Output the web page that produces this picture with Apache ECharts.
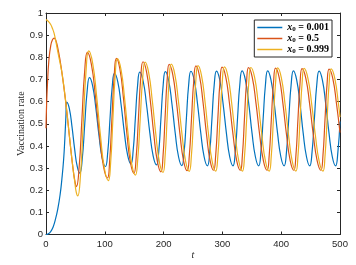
<!DOCTYPE html>
<html>
<head>
<meta charset="utf-8">
<script src="https://cdn.jsdelivr.net/npm/echarts@6/dist/echarts.min.js"></script>
<style>html,body{margin:0;padding:0;background:#fff}#c{width:356px;height:265px}</style>
</head>
<body>
<div id="c"></div>
<script>
const xTicks = [0, 100, 200, 300, 400, 500];
const yTicks = [0, 0.1, 0.2, 0.3, 0.4, 0.5, 0.6, 0.7, 0.8, 0.9, 1];
const seriesNames = ['0.001', '0.5', '0.999'];

// x0 = 0.001
const dataA = [
[0,0],[4,0.003],[8,0.013],[12,0.033],[16,0.068],[20,0.115],[24,0.18],[27,0.25],[30,0.34],[32,0.43],[33.8,0.53],[35.3,0.598],
[39.7,0.568],[44.2,0.487],[48.6,0.388],[53.1,0.307],[57.5,0.277],
[61.6,0.34],[65.75,0.493],[69.9,0.645],[74,0.708],[79.4,0.67],[84.8,0.57],[90.2,0.445],[95.6,0.345],[101,0.307],
[104.9,0.368],[108.75,0.518],[112.6,0.667],[116.5,0.728],[122.1,0.689],[127.7,0.587],[133.3,0.459],[138.9,0.357],[144.5,0.318],
[148.25,0.379],[152,0.526],[155.75,0.672],[159.5,0.733],[165.2,0.693],[170.9,0.588],[176.6,0.459],[182.3,0.354],[188,0.314],
[191.75,0.375],[195.5,0.525],[199.25,0.674],[203,0.735],[208.6,0.695],[214.2,0.589],[219.8,0.457],[225.4,0.351],[231,0.311],
[234.9,0.373],[238.75,0.524],[242.6,0.675],[246.5,0.737],[252.1,0.696],[257.7,0.59],[263.3,0.457],[268.9,0.351],[274.5,0.31],
[278.4,0.372],[282.25,0.524],[286.1,0.676],[290,0.738],[295.6,0.697],[301.2,0.59],[306.8,0.458],[312.4,0.351],[318,0.31],
[321.9,0.373],[325.75,0.525],[329.6,0.676],[333.5,0.739],[339.1,0.698],[344.8,0.591],[350.4,0.458],[356.1,0.351],[361.7,0.31],
[365.5,0.373],[369.35,0.525],[373.2,0.676],[377,0.739],[382.6,0.698],[388.2,0.591],[393.8,0.458],[399.4,0.351],[405,0.31],
[409,0.373],[412.9,0.525],[416.9,0.676],[420.8,0.739],[426.3,0.698],[431.9,0.591],[437.4,0.458],[443,0.351],[448.5,0.31],
[452.5,0.373],[456.5,0.524],[460.5,0.676],[464.5,0.738],[470.1,0.697],[475.7,0.59],[481.3,0.458],[486.9,0.351],[492.5,0.31],
[496.4,0.372],[500,0.51]
];

// x0 = 0.5
const dataB = [
[0,0.48],[1,0.585],[2.3,0.67],[5,0.79],[8,0.852],[11,0.879],[14,0.887],[17,0.874],[20,0.843],[24,0.785],[28,0.713],[33,0.61],[38,0.49],[42,0.388],[46,0.297],[49,0.243],[51.7,0.216],
[56.4,0.305],[61.05,0.519],[65.7,0.734],[70.4,0.822],[77.2,0.768],[84,0.626],[90.9,0.451],[97.7,0.309],[104.5,0.255],
[108.3,0.334],[112.15,0.525],[116,0.716],[119.8,0.795],[125.7,0.746],[131.7,0.616],[137.6,0.455],[143.6,0.325],[149.5,0.276],
[153.4,0.35],[157.25,0.528],[161.1,0.706],[165,0.78],[171.1,0.733],[177.2,0.609],[183.3,0.454],[189.4,0.33],[195.5,0.283],
[199,0.354],[202.5,0.526],[206,0.697],[209.5,0.768],[215.6,0.722],[221.7,0.602],[227.8,0.454],[233.9,0.334],[240,0.288],
[243.75,0.357],[247.5,0.525],[251.25,0.692],[255,0.761],[261,0.716],[267,0.598],[273,0.452],[279,0.335],[285,0.29],
[288.6,0.358],[292.25,0.523],[295.9,0.688],[299.5,0.756],[305.7,0.712],[311.9,0.595],[318.1,0.451],[324.3,0.334],[330.5,0.29],
[334,0.358],[337.5,0.522],[341,0.685],[344.5,0.753],[350.8,0.709],[357.1,0.593],[363.4,0.45],[369.7,0.334],[376,0.29],
[379.6,0.357],[383.25,0.521],[386.9,0.684],[390.5,0.751],[396.7,0.707],[402.9,0.592],[409.1,0.449],[415.3,0.334],[421.5,0.29],
[425,0.357],[428.5,0.52],[432,0.682],[435.5,0.749],[441.9,0.705],[448.3,0.591],[454.7,0.448],[461.1,0.334],[467.5,0.29],
[471,0.357],[474.5,0.519],[478,0.68],[481.5,0.747],[487.8,0.704],[494.1,0.589],[500,0.46]
];

// x0 = 0.999
const dataC = [
[0,0.97],[4,0.962],[8,0.948],[11,0.93],[13.6,0.91],[16.5,0.875],[19.3,0.836],[22,0.8],[25,0.761],[28,0.715],[33,0.612],[38,0.49],[42,0.39],[46,0.297],[49,0.235],[51.5,0.19],[54,0.174],
[58.7,0.27],[63.35,0.502],[68,0.733],[72.7,0.829],[79.4,0.773],[86,0.627],[92.7,0.445],[99.3,0.299],[106,0.243],
[109.9,0.323],[113.75,0.519],[117.6,0.714],[121.5,0.794],[127.6,0.744],[133.7,0.613],[139.8,0.449],[145.9,0.318],[152,0.268],
[156.1,0.342],[160.25,0.523],[164.4,0.704],[168.5,0.778],[174.6,0.731],[180.7,0.606],[186.8,0.452],[192.9,0.327],[199,0.28],
[202.5,0.351],[206,0.525],[209.5,0.698],[213,0.769],[219.1,0.723],[225.2,0.602],[231.3,0.452],[237.4,0.331],[243.5,0.285],
[247.25,0.355],[251,0.524],[254.75,0.692],[258.5,0.762],[264.5,0.717],[270.5,0.598],[276.5,0.45],[282.5,0.331],[288.5,0.286],
[292.25,0.355],[296,0.522],[299.75,0.688],[303.5,0.757],[309.6,0.712],[315.7,0.595],[321.8,0.449],[327.9,0.331],[334,0.286],
[337.6,0.354],[341.25,0.52],[344.9,0.686],[348.5,0.754],[354.7,0.71],[360.9,0.593],[367.1,0.448],[373.3,0.33],[379.5,0.286],
[383.1,0.354],[386.75,0.519],[390.4,0.684],[394,0.752],[400.2,0.708],[406.4,0.591],[412.6,0.447],[418.8,0.33],[425,0.286],
[428.5,0.354],[432,0.518],[435.5,0.682],[439,0.75],[445.4,0.706],[451.8,0.59],[458.2,0.446],[464.6,0.33],[471,0.286],
[474.5,0.353],[478,0.517],[481.5,0.681],[485,0.748],[491.2,0.704],[497.4,0.589],[500,0.53]
];

const colors = ['#0072BD', '#D95319', '#EDB120'];
const axisColor = '#262626';

const chart = echarts.init(document.getElementById('c'), null, {renderer: 'canvas'});

function mkX(pos, labels) {
  return {
    type: 'value', position: pos, min: xTicks[0], max: xTicks[xTicks.length - 1], interval: 100,
    axisLine: {show: true, onZero: false, lineStyle: {color: axisColor, width: 1}},
    axisTick: {show: true, inside: true, length: 3, lineStyle: {color: axisColor}},
    axisLabel: {show: labels, fontSize: 9.5, color: axisColor, margin: 5, fontFamily: 'Liberation Sans'},
    splitLine: {show: false}
  };
}
function mkY(pos, labels) {
  return {
    type: 'value', position: pos, min: yTicks[0], max: yTicks[yTicks.length - 1], interval: 0.1,
    axisLine: {show: true, onZero: false, lineStyle: {color: axisColor, width: 1}},
    axisTick: {show: true, inside: true, length: 3, lineStyle: {color: axisColor}},
    axisLabel: {show: labels, fontSize: 9.5, color: axisColor, margin: 3, fontFamily: 'Liberation Sans',
      formatter: v => String(Math.round(v * 10) / 10)},
    splitLine: {show: false}
  };
}

const xMain = mkX('bottom', true);
xMain.name = 't';
xMain.nameLocation = 'middle';
xMain.nameGap = 15.5;
xMain.nameMoveOverlap = false;
xMain.nameTextStyle = {fontStyle: 'italic', fontFamily: 'Liberation Serif', fontSize: 10, color: axisColor};
const yMain = mkY('left', true);
yMain.name = 'Vaccination rate';
yMain.nameLocation = 'middle';
yMain.nameGap = 20;
yMain.nameMoveOverlap = false;
yMain.nameTextStyle = {fontFamily: 'Liberation Serif', fontSize: 10, color: axisColor};

const datasets = [dataA, dataB, dataC];

chart.setOption({
  animation: false,
  grid: {left: 46, right: 16, top: 13, bottom: 28.5, containLabel: false},
  xAxis: [xMain, mkX('top', false)],
  yAxis: [yMain, mkY('right', false)],
  legend: {
    orient: 'vertical', right: 24, top: 20, padding: [2, 3, 2, 3], itemGap: 0,
    itemWidth: 25, itemHeight: 1.5, icon: 'rect',
    borderColor: axisColor, borderWidth: 1, backgroundColor: '#fff',
    data: seriesNames.map(n => 'x0 = ' + n),
    formatter: name => '{i|x}{s|0}{e|' + name.slice(2) + '}',
    textStyle: {
      fontFamily: 'Liberation Serif', fontSize: 10, color: '#000', lineHeight: 10.6,
      rich: {
        i: {fontFamily: 'Liberation Serif', fontStyle: 'italic', fontWeight: 'bold', fontSize: 10, lineHeight: 10.6},
        s: {fontFamily: 'Liberation Serif', fontWeight: 'bold', fontSize: 7, padding: [4, 0, 0, 0], lineHeight: 10.6},
        e: {fontFamily: 'Liberation Serif', fontWeight: 'bold', fontSize: 10, lineHeight: 10.6}
      }
    }
  },
  series: datasets.map((d, i) => ({
    name: 'x0 = ' + seriesNames[i],
    type: 'line', data: d, smooth: 0.5, showSymbol: false,
    xAxisIndex: 0, yAxisIndex: 0,
    lineStyle: {color: colors[i], width: 1.2},
    itemStyle: {color: colors[i]},
    z: 2 + i
  }))
});
</script>
</body>
</html>
